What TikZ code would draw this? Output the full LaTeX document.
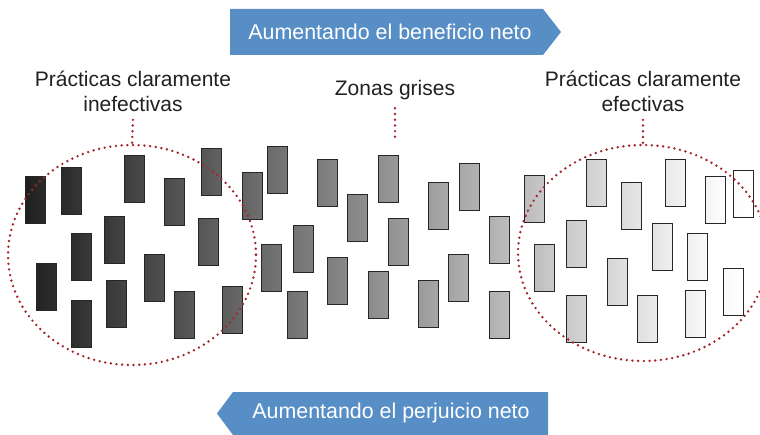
\documentclass[tikz,border=0pt]{standalone}
\usepackage{fontspec}
\setmainfont{Liberation Sans}
\usetikzlibrary{shapes.geometric}
\definecolor{flechaazul}{RGB}{88,142,198}
\definecolor{puntorojo}{RGB}{163,38,44}
\begin{document}
\begin{tikzpicture}[x=1pt,y=-1pt,
    etiqueta/.style={align=center,text=black!87,font=\fontsize{21}{25}\selectfont},
    flechatexto/.style={text=white,font=\fontsize{21.4}{25}\selectfont},
    punteado/.style={puntorojo,line width=2.7pt,line cap=round,dash pattern=on 0pt off 5.7pt},
    zona/.style={ellipse,draw=none,inner sep=0pt}]
              \useasboundingbox (0,0) rectangle (760,435);
              \fill[flechaazul] (230,9) -- (543,9) -- (561,32) -- (543,55) -- (230,55) -- cycle;
              \fill[flechaazul] (548,392) -- (233,392) -- (217,413.5) -- (233,435) -- (548,435) -- cycle;
              \node[flechatexto] (beneficio) at (390,32) {Aumentando el beneficio neto};
              \node[flechatexto] (perjuicio) at (391,413) {Aumentando el perjuicio neto};
              \foreach \x/\y in {25/177,61/168,124/156,164/179,201/149,242/173,104/217,71/234,36/264,198/219,144/255,106/281,71/301,174/292,222/287,
                                 267/147,317/160,378/156,347/195,428/183,459/164,293/226,261/245,388/219,489/217,327/258,287/292,368/272,418/281,448/255,489/292,
                                 524/176,586/160,621/183,665/160,705/177,733/171,566/221,534/245,652/224,687/234,607/259,723/269,566/296,637/296,685/291} {
                  \pgfmathsetmacro\p{88-(\x-25)/715*88};
                  \pgfmathsetmacro\q{max(\p-5,0)};
                  \shadedraw[left color=black!\p,right color=black!\q,draw=black!85,line width=1pt] (\x,\y) rectangle ++(20.5,47);
              }
              \node[zona,minimum width=248pt,minimum height=220pt] (inefectivas) at (132,255) {};
              \node[zona,minimum width=250pt,minimum height=216pt] (efectivas) at (643,253) {};
              \draw[punteado] (inefectivas.center) ellipse (124 and 110);
              \draw[punteado] (efectivas.center) ellipse (125 and 108);
              \node[etiqueta] (lblinef) at (133,91) {Prácticas claramente\\inefectivas};
              \node[etiqueta] (lblgris) at (395,90) {Zonas grises};
              \node[etiqueta] (lblef) at (643,91) {Prácticas claramente\\efectivas};
              \coordinate (finGris) at (395,138);
              \draw[punteado] ([yshift=-5pt]lblinef.south) -- (inefectivas.north);
              \draw[punteado] ([yshift=-5pt]lblgris.south) -- (finGris);
              \draw[punteado] ([yshift=-5pt]lblef.south) -- (efectivas.north);
        \end{tikzpicture}
\end{document}
